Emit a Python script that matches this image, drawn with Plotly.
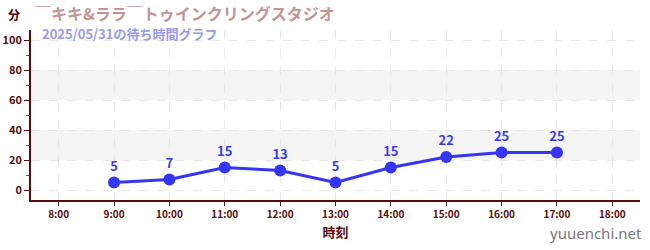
import plotly.graph_objects as go

hours = [9, 10, 11, 12, 13, 14, 15, 16, 17]
waits = [5, 7, 15, 13, 5, 15, 22, 25, 25]
tick_hours = [8, 9, 10, 11, 12, 13, 14, 15, 16, 17, 18]
tick_labels = [f"{h}:00" for h in tick_hours]
y_ticks = [0, 20, 40, 60, 80, 100]
y_minor = [10, 30, 50, 70, 90]
bands = [(20, 40), (60, 80)]

title_text = "￣キキ&ララ￣トゥインクリングスタジオ"
subtitle_text = "2025/05/31の待ち時間グラフ"

FONT = "Noto Sans CJK JP"
AXIS_COLOR = "#5a0a0a"

fig = go.Figure()
fig.add_trace(go.Scatter(
    x=hours, y=waits, mode="lines+markers+text",
    text=[str(v) for v in waits], textposition="top center",
    textfont=dict(color="#3a3aee", size=13, family=FONT, weight="bold"),
    line=dict(color="#3535f5", width=3),
    marker=dict(color="#3535f5", size=12),
    cliponaxis=False, showlegend=False,
))

shapes = []
for lo, hi in bands:
    shapes.append(dict(type="rect", xref="paper", yref="y", x0=0, x1=1, y0=lo, y1=hi,
                       fillcolor="#f5f5f5", line=dict(width=0), layer="below"))

fig.update_layout(
    width=650, height=250,
    margin=dict(l=31, r=10, t=30, b=50),
    paper_bgcolor="white", plot_bgcolor="white",
    font=dict(family=FONT, color=AXIS_COLOR),
    shapes=shapes,
    xaxis=dict(
        range=[7.5, 18.5], tickvals=tick_hours, ticktext=tick_labels,
        showline=True, linecolor=AXIS_COLOR, linewidth=1.5,
        ticks="outside", ticklen=4, tickcolor=AXIS_COLOR,
        tickfont=dict(size=10, color=AXIS_COLOR, weight="bold"),
        showgrid=True, gridcolor="#e8e8e8", griddash="dash", gridwidth=1,
        zeroline=False, automargin=False,
        title=dict(text="時刻", font=dict(size=13, color=AXIS_COLOR, weight="bold"), standoff=8),
    ),
    yaxis=dict(
        range=[-6.67, 106.67], tickvals=y_ticks,
        showline=True, linecolor=AXIS_COLOR, linewidth=1.5,
        ticks="outside", ticklen=5, tickcolor=AXIS_COLOR,
        tickfont=dict(size=11, color=AXIS_COLOR, weight="bold"),
        showgrid=True, gridcolor="#e8e8e8", griddash="dash", gridwidth=1,
        zeroline=False, automargin=False,
        minor=dict(tickvals=y_minor, ticks="outside", ticklen=3,
                   tickcolor="#dd2222", showgrid=False),
    ),
)
fig.add_annotation(text="分", xref="paper", yref="paper", x=0, y=1, xanchor="right",
                   yanchor="middle", xshift=-9, yshift=16, showarrow=False,
                   font=dict(size=12, color="#4a0000", family=FONT, weight="bold"))
fig.add_annotation(text=title_text, xref="paper", yref="paper", x=0, y=1, xanchor="left",
                   yanchor="middle", xshift=2, yshift=17, showarrow=False,
                   font=dict(size=16, color="#c49494", family=FONT, weight="bold"))
fig.add_annotation(text=subtitle_text, xref="paper", yref="paper", x=0, y=1, xanchor="left",
                   yanchor="middle", xshift=9, yshift=-3, showarrow=False,
                   font=dict(size=13, color="#9999ee", family=FONT, weight="bold"))
fig.add_annotation(text="yuuenchi.net", xref="paper", yref="paper", x=1, y=0, xanchor="right",
                   yanchor="middle", xshift=4, yshift=-33, showarrow=False,
                   font=dict(size=15, color="#777777", family="Noto Sans"))

fig.write_html("out.html")
